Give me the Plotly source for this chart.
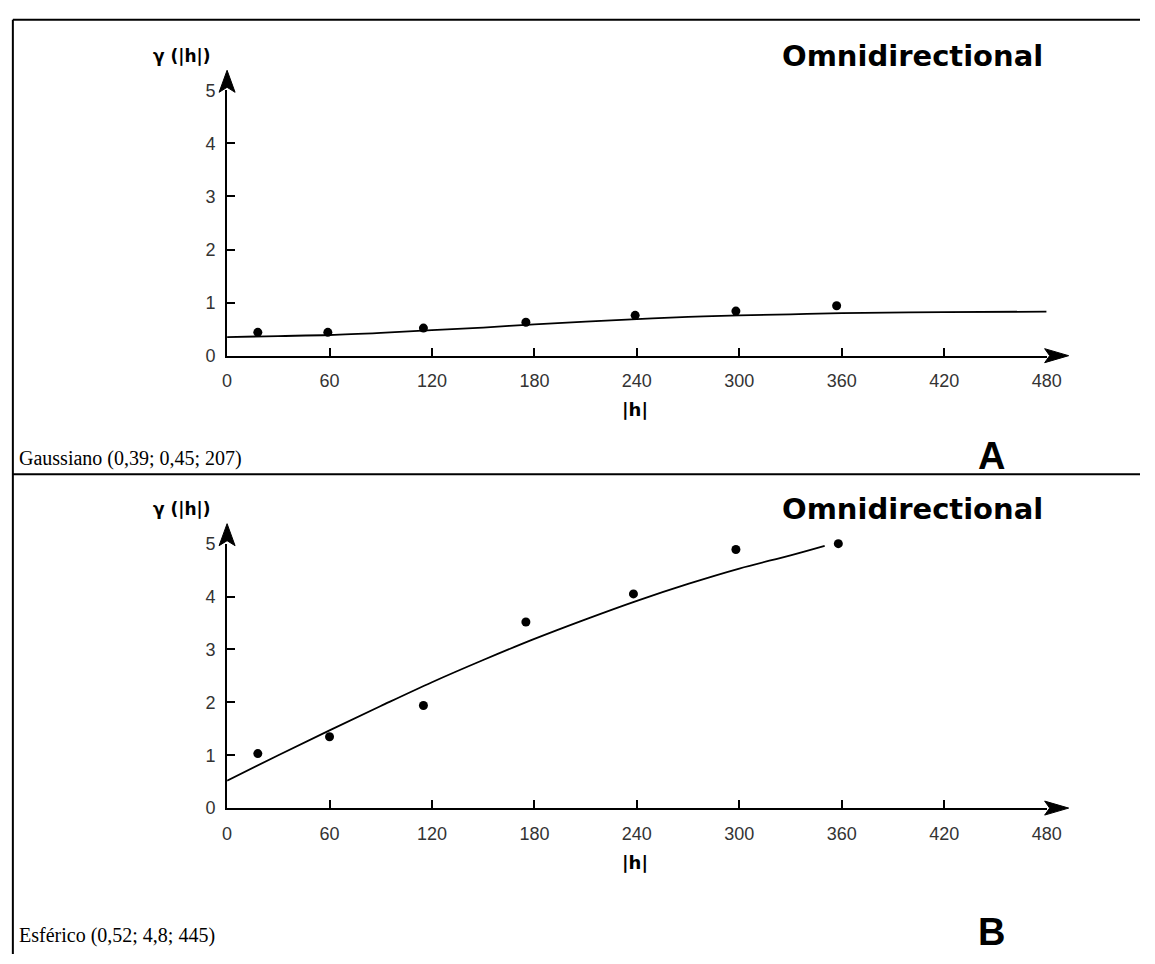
import plotly.graph_objects as go

W, H = 1155, 964

# ---- data ----
lags_a = [18, 59, 115, 175, 239, 298, 357]
gamma_a = [0.44, 0.44, 0.52, 0.63, 0.76, 0.84, 0.94]
model_a_h = [0, 30, 60, 90, 120, 150, 180, 210, 240, 270, 300, 330, 360, 420, 480]
model_a_g = [0.35, 0.37, 0.39, 0.43, 0.48, 0.53, 0.59, 0.64, 0.69, 0.73, 0.76, 0.78, 0.80, 0.82, 0.83]

lags_b = [18, 60, 115, 175, 238, 298, 358]
gamma_b = [1.03, 1.35, 1.94, 3.52, 4.05, 4.89, 5.0]
model_b_h = [0, 30, 60, 90, 120, 150, 180, 210, 240, 270, 300, 330, 350]
model_b_g = [0.52, 1.0, 1.47, 1.93, 2.38, 2.8, 3.2, 3.57, 3.92, 4.24, 4.53, 4.78, 4.96]

x_ticks = [0, 60, 120, 180, 240, 300, 360, 420, 480]
y_ticks = [0, 1, 2, 3, 4, 5]
caption_a = "Gaussiano (0,39; 0,45; 207)"
caption_b = "Esférico (0,52; 4,8; 445)"
panel_title = "Omnidirectional"
y_title = "γ (|h|)"
x_title = "|h|"


def px(x):
    return x / W


def py(y):
    return 1 - y / H


fig = go.Figure()

for i, (lx, ly, mh, mg) in enumerate([(lags_a, gamma_a, model_a_h, model_a_g),
                                      (lags_b, gamma_b, model_b_h, model_b_g)]):
    xa = "x" if i == 0 else "x2"
    ya = "y" if i == 0 else "y2"
    fig.add_trace(go.Scatter(x=mh, y=mg, mode="lines", line=dict(color="black", width=1.8, shape="spline"),
                             xaxis=xa, yaxis=ya, showlegend=False, hoverinfo="skip", cliponaxis=False))
    fig.add_trace(go.Scatter(x=lx, y=ly, mode="markers", marker=dict(color="black", size=9),
                             xaxis=xa, yaxis=ya, showlegend=False, cliponaxis=False))

axis_common = dict(showgrid=False, zeroline=False, showline=True, linecolor="black", linewidth=2,
                   ticks="inside", ticklen=8, tickwidth=1.5, tickcolor="black",
                   tickfont=dict(family="Liberation Sans", size=18, color="#333"))

X0, X480 = 226, 1060
YA0, YA5 = 353, 82
YB0, YB5 = 815, 545
x_dom = [px(X0), px(X480)]
fig.update_layout(
    width=W, height=H, margin=dict(l=0, r=0, t=0, b=0),
    paper_bgcolor="white", plot_bgcolor="white",
    xaxis=dict(domain=x_dom, range=[0, 480], tickvals=x_ticks, anchor="y", ticklabelstandoff=8, **axis_common),
    yaxis=dict(domain=[py(YA0), py(YA5)], range=[0, 5], tickvals=y_ticks, anchor="x", ticklabelstandoff=6, **axis_common),
    xaxis2=dict(domain=x_dom, range=[0, 480], tickvals=x_ticks, anchor="y2", ticklabelstandoff=8, **axis_common),
    yaxis2=dict(domain=[py(YB0), py(YB5)], range=[0, 5], tickvals=y_ticks, anchor="x2", ticklabelstandoff=6, **axis_common),
)

shapes = []
# table borders
shapes.append(dict(type="line", xref="paper", yref="paper", x0=px(8), x1=1, y0=py(10), y1=py(10),
                   line=dict(color="black", width=2)))
shapes.append(dict(type="line", xref="paper", yref="paper", x0=px(8), x1=1, y0=py(474), y1=py(474),
                   line=dict(color="black", width=2)))
shapes.append(dict(type="line", xref="paper", yref="paper", x0=px(8), x1=px(8), y0=py(10), y1=0,
                   line=dict(color="black", width=2)))
# arrowheads (paper-referenced so they are not clipped)
for y0, y5 in [(YA0, YA5), (YB0, YB5)]:
    shapes.append(dict(type="path", xref="paper", yref="paper", xsizemode="pixel", ysizemode="pixel",
                       xanchor=px(X480), yanchor=py(y0), path="M -2 -7 L 22 0 L -2 7 L 3 0 Z",
                       fillcolor="black", line=dict(color="black", width=1)))
    shapes.append(dict(type="path", xref="paper", yref="paper", xsizemode="pixel", ysizemode="pixel",
                       xanchor=px(X0), yanchor=py(y5), path="M -8 -2 L 0 20 L 8 -2 L 0 3 Z",
                       fillcolor="black", line=dict(color="black", width=1)))
fig.update_layout(shapes=shapes)

ann = []
for off, cap, letter, ybase in [(0, caption_a, "A", 458), (463, caption_b, "B", 945)]:
    ann.append(dict(text=panel_title, x=px(1058), y=py(47 + off), xref="paper", yref="paper",
                    xanchor="right", yanchor="middle", showarrow=False,
                    font=dict(family="DejaVu Sans", size=29, color="black", weight="bold")))
    ann.append(dict(text=y_title, x=px(180), y=py(47 + off), xref="paper", yref="paper",
                    xanchor="center", yanchor="middle", showarrow=False,
                    font=dict(family="DejaVu Sans", size=17, color="black", weight="bold")))
    ann.append(dict(text=x_title, x=px(641), y=py(408 + off), xref="paper", yref="paper",
                    xanchor="center", yanchor="middle", showarrow=False,
                    font=dict(family="DejaVu Sans", size=18, color="black", weight="bold")))
    ann.append(dict(text=cap, x=px(12), y=py(ybase), xref="paper", yref="paper",
                    xanchor="left", yanchor="middle", showarrow=False,
                    font=dict(family="Liberation Serif", size=20, color="black")))
    ann.append(dict(text=letter, x=px(1004), y=py(ybase - 3), xref="paper", yref="paper",
                    xanchor="center", yanchor="middle", showarrow=False,
                    font=dict(family="Liberation Sans", size=38, color="black", weight="bold")))
fig.update_layout(annotations=ann)

fig.write_html("out.html", config={"displayModeBar": False},
               post_script="document.body.style.margin='0';document.body.style.overflow='hidden';")
